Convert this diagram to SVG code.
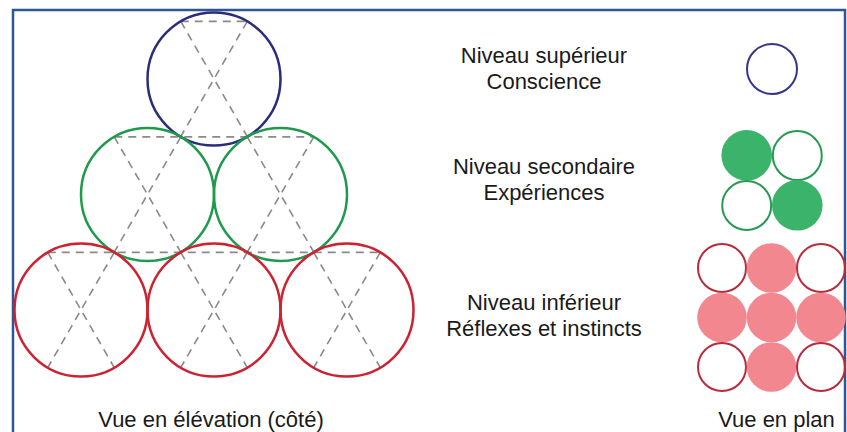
<svg xmlns="http://www.w3.org/2000/svg" width="847" height="432" viewBox="0 0 847 432">
  <style>
    .dash { stroke: #8a8a8a; stroke-width: 1.6; stroke-dasharray: 8 6; fill: none; }
    .blue { fill: none; stroke: #2b2d7c; stroke-width: 2.5; }
    .green { fill: none; stroke: #1e9a4c; stroke-width: 2.5; }
    .red { fill: none; stroke: #cc2232; stroke-width: 2.5; }
    .pblue { fill: none; stroke: #35358a; stroke-width: 2; }
    .pgreen { fill: none; stroke: #279a52; stroke-width: 2; }
    .pgreenf { fill: #3bb36b; stroke: none; }
    .pred { fill: none; stroke: #b72b3b; stroke-width: 2; }
    .predf { fill: #f2878f; stroke: none; }
    text { font-family: "Liberation Sans", Arial, sans-serif; font-size: 22px; fill: #1a1a1a; text-anchor: middle; }
  </style>
  <rect x="0" y="0" width="847" height="432" fill="#ffffff"/>
  <rect id="frame" x="13" y="10" width="832" height="440" fill="none" stroke="#2e5594" stroke-width="2.5"/>

  <g id="guides">
    <line class="dash" x1="180.75" y1="21.4" x2="247.25" y2="21.4"/>
    <line class="dash" x1="180.75" y1="21.4" x2="247.25" y2="136.6"/>
    <line class="dash" x1="247.25" y1="21.4" x2="180.75" y2="136.6"/>
    <line class="dash" x1="114.25" y1="136.9" x2="313.75" y2="136.9"/>
    <line class="dash" x1="114.25" y1="136.9" x2="180.75" y2="252.1"/>
    <line class="dash" x1="180.75" y1="136.9" x2="114.25" y2="252.1"/>
    <line class="dash" x1="247.25" y1="136.9" x2="313.75" y2="252.1"/>
    <line class="dash" x1="313.75" y1="136.9" x2="247.25" y2="252.1"/>
    <line class="dash" x1="47.75" y1="252.4" x2="379.25" y2="252.4"/>
    <line class="dash" x1="47.75" y1="252.4" x2="114.25" y2="367.6"/>
    <line class="dash" x1="114.25" y1="252.4" x2="47.75" y2="367.6"/>
    <line class="dash" x1="180.75" y1="252.4" x2="247.25" y2="367.6"/>
    <line class="dash" x1="247.25" y1="252.4" x2="180.75" y2="367.6"/>
    <line class="dash" x1="313.75" y1="252.4" x2="380.25" y2="367.6"/>
    <line class="dash" x1="380.25" y1="252.4" x2="313.75" y2="367.6"/>
  </g>

  <g id="elevation-top"><circle class="blue" cx="214" cy="79" r="66.5"/></g>
  <g id="elevation-mid-1"><circle class="green" cx="147.5" cy="194.5" r="66.5"/></g>
  <g id="elevation-mid-2"><circle class="green" cx="280.5" cy="194.5" r="66.5"/></g>
  <g id="elevation-low-1"><circle class="red" cx="81" cy="310" r="66.5"/></g>
  <g id="elevation-low-2"><circle class="red" cx="214" cy="310" r="66.5"/></g>
  <g id="elevation-low-3"><circle class="red" cx="347" cy="310" r="66.5"/></g>

  <g id="label-top">
    <text x="544" y="63">Niveau supérieur</text>
    <text x="544" y="88.5">Conscience</text>
  </g>
  <g id="label-mid">
    <text x="544" y="174">Niveau secondaire</text>
    <text x="544" y="199.5">Expériences</text>
  </g>
  <g id="label-low">
    <text x="544" y="310">Niveau inférieur</text>
    <text x="544" y="336">Réflexes et instincts</text>
  </g>

  <g id="plan-top"><circle class="pblue" cx="772" cy="69" r="25"/></g>
  <g id="plan-mid">
    <circle class="pgreenf" cx="746.7" cy="155.3" r="25.3"/>
    <circle class="pgreen" cx="797.3" cy="155.6" r="24.5"/>
    <circle class="pgreen" cx="746.7" cy="205.5" r="24.5"/>
    <circle class="pgreenf" cx="797.3" cy="205.3" r="25.3"/>
  </g>
  <g id="plan-low">
    <circle class="pred" cx="722" cy="268" r="24"/>
    <circle class="predf" cx="771.5" cy="268" r="24.8"/>
    <circle class="pred" cx="821" cy="268" r="24"/>
    <circle class="predf" cx="722" cy="317.5" r="24.8"/>
    <circle class="predf" cx="771.5" cy="317.5" r="24.8"/>
    <circle class="predf" cx="821" cy="317.5" r="24.8"/>
    <circle class="pred" cx="722" cy="367" r="24"/>
    <circle class="predf" cx="771.5" cy="367" r="24.8"/>
    <circle class="pred" cx="821" cy="367" r="24"/>
  </g>

  <g id="caption-elevation"><text x="211" y="427">Vue en élévation (côté)</text></g>
  <g id="caption-plan"><text x="776.5" y="427">Vue en plan</text></g>
</svg>
